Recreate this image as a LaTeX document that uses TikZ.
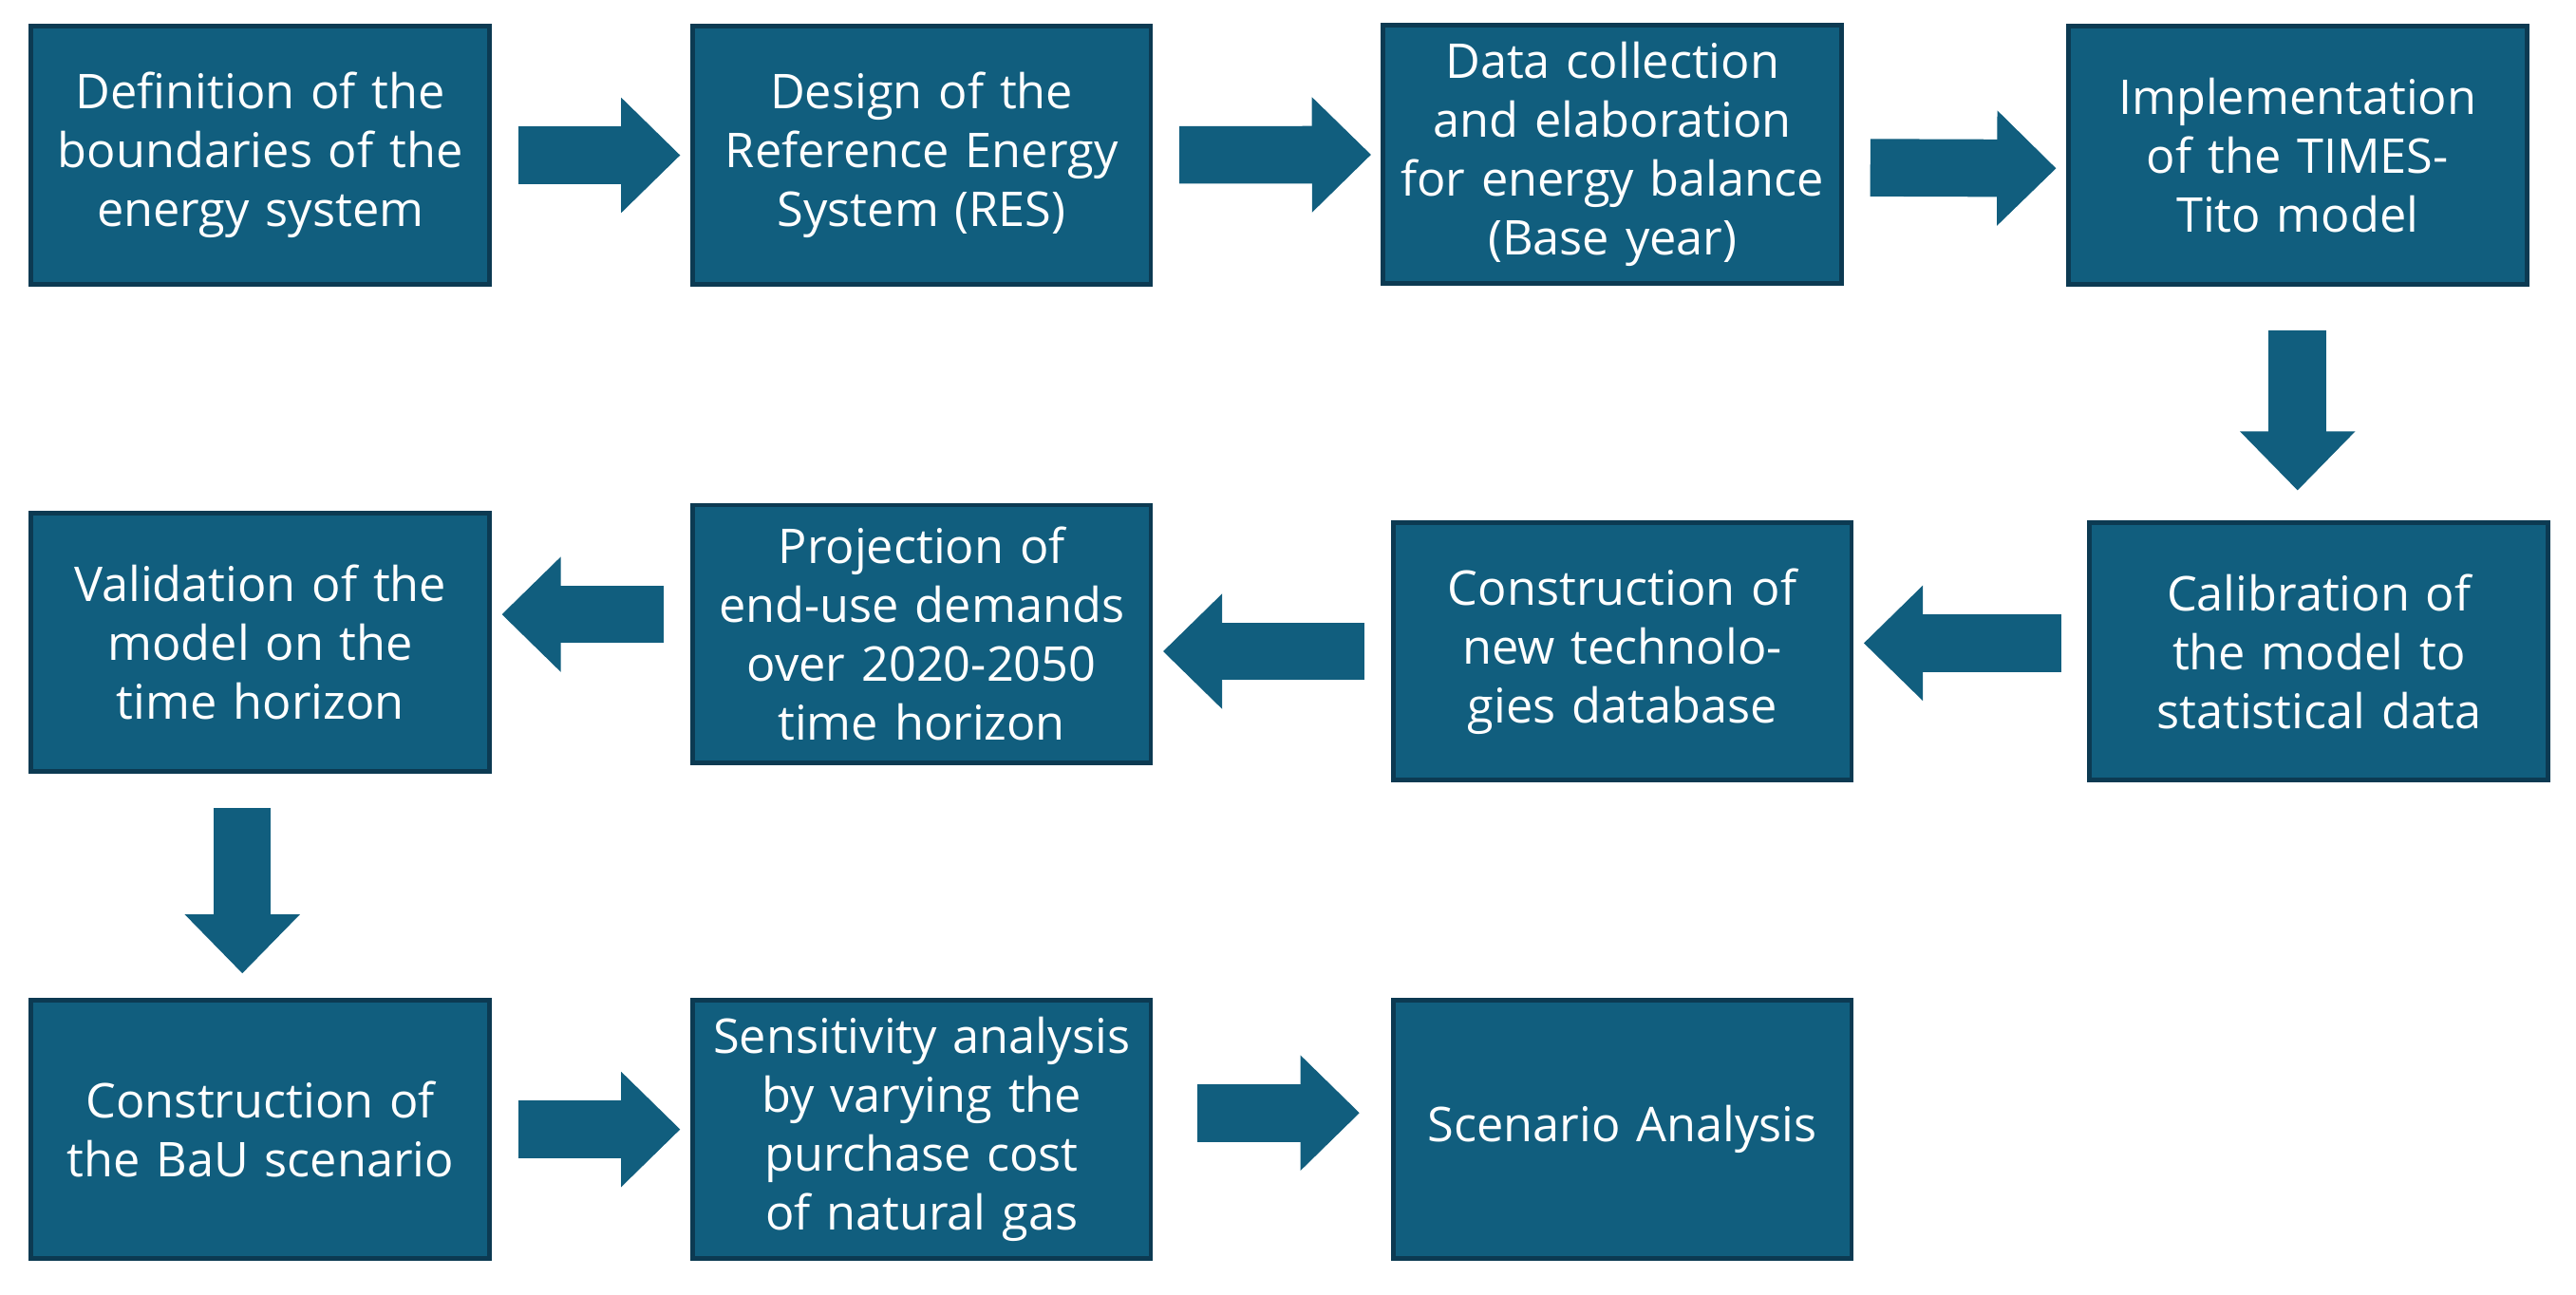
\documentclass[tikz,border=0pt]{standalone}
\usepackage{fontspec}
\setmainfont{Open Sans}
\usetikzlibrary{arrows.meta}
\definecolor{boxfill}{RGB}{17,94,126}
\definecolor{boxline}{RGB}{12,58,82}
\tikzset{
	stage/.style={rectangle, draw=boxline, line width=0.8pt, fill=boxfill, text=white,
		minimum width=2.79cm, minimum height=1.57cm, text width=2.65cm, align=center,
		inner sep=0pt, font=\fontsize{8.3pt}{10.2pt}\selectfont},
	flow/.style={draw=boxfill, line width=0.35cm, shorten <=0.16cm, shorten >=0.06cm,
		-{Triangle[length=0.36cm,width=0.68cm]}}
}
\begin{document}
\begin{tikzpicture}
	\useasboundingbox (0,0) rectangle (15.68,-7.88);
	
	%first row
	\node[stage] (def) at (1.585,-0.945) {Definition of the boundaries of the energy system};
	\node[stage] (res) at (5.61,-0.945) {Design of the Reference Energy System (RES)};
	\node[stage] (data) at (9.815,-0.94) {Data collection and elaboration for energy balance (Base year)};
	\node[stage] (times) at (13.985,-0.945) {Implementation of the TIMES-Tito model};
	
	%second row
	\node[stage] (calib) at (14.115,-3.965) {Calibration of the model to statistical data};
	\node[stage] (tech) at (9.875,-3.965) {Construction of new technologies database};
	\node[stage] (proj) at (5.61,-3.86) {Projection of end-use demands over 2020-2050 time horizon};
	\node[stage] (valid) at (1.585,-3.91) {Validation of the model on the time horizon};
	
	%third row
	\node[stage] (bau) at (1.585,-6.875) {Construction of the BaU scenario};
	\node[stage] (sens) at (5.61,-6.875) {Sensitivity analysis by varying the purchase cost of natural gas};
	\node[stage] (scen) at (9.875,-6.875) {Scenario Analysis};
	
	\draw[flow] (def) -- (res);
	\draw[flow] (res) -- (data);
	\draw[flow] ([yshift=-0.08cm]data.east) -- ([yshift=-0.08cm]times.west);
	\draw[flow, shorten <=0.27cm, shorten >=0.18cm] (times.south) -- (times.south |- calib.north);
	\draw[flow] ([yshift=0.05cm]calib.west) -- ([yshift=0.05cm]calib.west -| tech.east);
	\draw[flow] (tech.west) -- (tech.west -| proj.east);
	\draw[flow] ([yshift=0.12cm]proj.west) -- ([yshift=0.12cm]proj.west -| valid.east);
	\draw[flow, shorten <=0.21cm, shorten >=0.15cm] ([xshift=-0.11cm]valid.south) -- ([xshift=-0.11cm]bau.north);
	\draw[flow] (bau) -- (sens);
	\draw[flow, shorten <=0.27cm, shorten >=0.19cm] ([yshift=0.1cm]sens.east) -- ([yshift=0.1cm]scen.west);
\end{tikzpicture}
\end{document}
